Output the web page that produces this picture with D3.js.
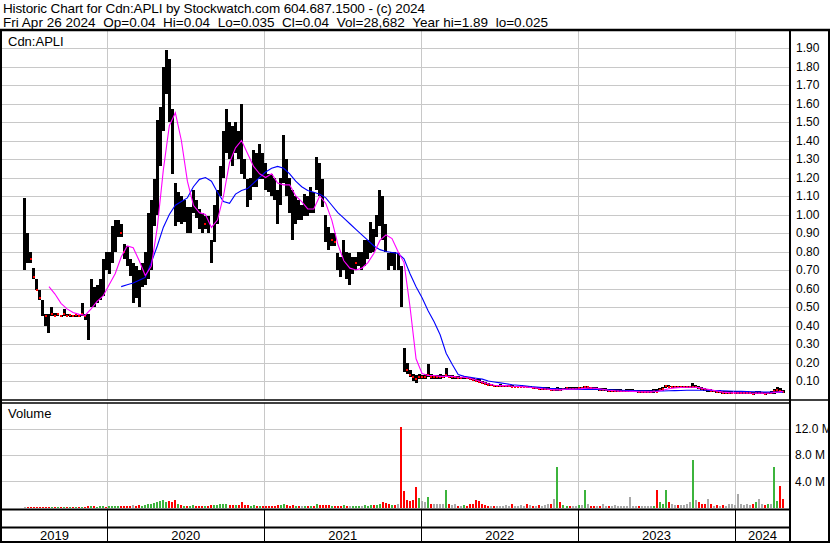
<!DOCTYPE html>
<html><head><meta charset="utf-8">
<script src="https://cdn.jsdelivr.net/npm/d3@7/dist/d3.min.js"></script>
<style>
html,body{margin:0;padding:0;background:#fff;}
svg{display:block;font-family:Arial,"Liberation Sans",sans-serif;}
</style></head><body>
<svg id="c" width="830" height="543"></svg>
<script>
// ---------- DATA (weekly bars) ----------
const startDate = "2019-06-24";
const high = [
1.09,0.90,0.80,0.71,0.65,0.59,0.54,0.46,0.46,0.50,
0.47,0.47,0.455,0.49,0.46,0.455,0.455,0.455,0.455,0.52,
0.46,0.46,0.65,0.61,0.62,0.65,0.76,0.80,0.80,0.94,
0.97,0.97,0.95,0.84,0.83,0.76,0.74,0.72,0.70,0.74,
0.80,1.01,1.08,1.19,1.51,1.58,1.80,1.89,1.84,1.57,
1.17,1.12,1.10,1.08,1.04,1.04,1.13,1.08,1.03,1.01,
0.99,0.99,0.86,1.05,1.13,1.26,1.45,1.57,1.50,1.48,
1.50,1.45,1.60,1.30,1.19,1.20,1.35,1.33,1.38,1.33,
1.28,1.22,1.22,1.20,1.13,1.20,1.43,1.30,1.20,1.13,
1.10,1.08,1.05,1.11,1.10,1.15,1.12,1.31,1.28,1.19,
1.00,0.93,0.90,0.90,0.79,0.77,0.86,0.80,0.79,0.77,
0.77,0.80,0.80,0.86,0.86,0.96,0.92,1.00,1.13,1.10,
0.95,0.79,0.80,0.80,0.79,0.72,0.28,0.20,0.16,0.14,
0.13,0.14,0.13,0.14,0.19,0.14,0.13,0.13,0.14,0.13,
0.17,0.13,0.13,0.125,0.125,0.12,0.125,0.12,0.12,0.115,
0.11,0.11,0.10,0.095,0.09,0.085,0.08,0.08,0.085,0.08,
0.08,0.08,0.08,0.075,0.075,0.08,0.075,0.075,0.075,0.07,
0.07,0.065,0.065,0.065,0.065,0.06,0.06,0.065,0.06,0.06,
0.065,0.065,0.065,0.065,0.065,0.07,0.075,0.075,0.07,0.065,
0.065,0.06,0.06,0.06,0.055,0.055,0.055,0.055,0.055,0.05,
0.055,0.055,0.055,0.05,0.05,0.05,0.05,0.05,0.05,0.055,
0.055,0.06,0.065,0.08,0.08,0.075,0.075,0.075,0.075,0.075,
0.075,0.075,0.09,0.08,0.075,0.065,0.06,0.055,0.055,0.05,
0.05,0.05,0.045,0.045,0.045,0.045,0.045,0.045,0.045,0.045,
0.045,0.04,0.04,0.045,0.045,0.04,0.04,0.04,0.045,0.055,
0.065,0.06,0.05];
const low = [
0.70,0.74,0.74,0.65,0.59,0.54,0.45,0.40,0.36,0.45,
0.45,0.45,0.45,0.45,0.45,0.45,0.45,0.45,0.45,0.45,
0.43,0.32,0.50,0.50,0.52,0.54,0.56,0.70,0.68,0.74,
0.80,0.88,0.88,0.76,0.72,0.67,0.52,0.55,0.50,0.61,
0.62,0.65,0.70,0.94,1.00,1.26,1.45,1.65,1.50,1.22,
0.94,0.96,0.95,0.96,0.90,0.90,1.01,0.98,0.92,0.90,
0.92,0.90,0.74,0.85,0.95,1.10,1.20,1.33,1.30,1.26,
1.33,1.30,1.22,1.19,1.04,1.08,1.15,1.15,1.19,1.19,
1.13,1.12,1.10,1.08,0.95,1.05,1.17,1.10,1.01,0.86,
0.95,0.97,0.97,0.99,0.99,1.01,1.01,1.13,1.10,1.04,
0.85,0.81,0.83,0.83,0.70,0.66,0.70,0.65,0.62,0.68,
0.70,0.72,0.70,0.72,0.76,0.79,0.80,0.88,0.94,0.86,
0.80,0.70,0.72,0.70,0.70,0.50,0.15,0.14,0.12,0.10,
0.09,0.11,0.11,0.11,0.12,0.11,0.11,0.11,0.11,0.115,
0.12,0.115,0.11,0.11,0.11,0.11,0.11,0.11,0.105,0.10,
0.095,0.09,0.085,0.08,0.075,0.075,0.07,0.07,0.07,0.07,
0.07,0.07,0.07,0.065,0.065,0.065,0.065,0.06,0.06,0.055,
0.055,0.05,0.05,0.05,0.05,0.045,0.045,0.045,0.045,0.05,
0.05,0.05,0.05,0.05,0.05,0.05,0.055,0.055,0.05,0.05,
0.05,0.045,0.045,0.045,0.04,0.04,0.04,0.04,0.04,0.04,
0.04,0.04,0.04,0.04,0.035,0.035,0.035,0.035,0.035,0.035,
0.04,0.045,0.045,0.06,0.065,0.065,0.06,0.06,0.06,0.06,
0.06,0.06,0.06,0.06,0.055,0.05,0.045,0.04,0.04,0.04,
0.035,0.035,0.03,0.03,0.03,0.03,0.03,0.03,0.03,0.03,
0.03,0.03,0.025,0.03,0.03,0.03,0.025,0.03,0.03,0.03,
0.04,0.04,0.035];
const close = [
0.90,0.80,0.76,0.66,0.59,0.55,0.46,0.45,0.37,0.46,
0.45,0.46,0.45,0.46,0.45,0.455,0.45,0.455,0.45,0.46,
0.45,0.40,0.60,0.55,0.58,0.60,0.72,0.70,0.75,0.85,
0.90,0.95,0.90,0.80,0.78,0.70,0.70,0.62,0.58,0.68,
0.75,0.95,1.00,1.10,1.40,1.50,1.70,1.80,1.65,1.25,
1.00,1.05,1.00,1.02,0.95,0.98,1.05,1.00,0.95,0.93,
0.95,0.92,0.78,1.00,1.10,1.20,1.40,1.45,1.40,1.35,
1.40,1.35,1.30,1.22,1.10,1.15,1.25,1.22,1.25,1.24,
1.20,1.18,1.15,1.12,1.00,1.15,1.30,1.15,1.05,0.95,
1.02,1.00,1.00,1.05,1.02,1.10,1.05,1.25,1.15,1.08,
0.88,0.85,0.86,0.85,0.72,0.70,0.75,0.70,0.70,0.72,
0.74,0.75,0.75,0.80,0.82,0.90,0.88,0.95,1.05,0.90,
0.82,0.75,0.76,0.72,0.72,0.55,0.20,0.16,0.13,0.12,
0.11,0.12,0.12,0.12,0.13,0.12,0.12,0.12,0.12,0.12,
0.13,0.12,0.12,0.12,0.115,0.115,0.12,0.115,0.11,0.105,
0.10,0.095,0.09,0.085,0.08,0.08,0.075,0.075,0.075,0.075,
0.075,0.075,0.07,0.07,0.07,0.07,0.07,0.065,0.065,0.06,
0.06,0.055,0.055,0.055,0.055,0.05,0.05,0.055,0.05,0.055,
0.06,0.055,0.055,0.055,0.06,0.06,0.065,0.065,0.06,0.055,
0.055,0.05,0.05,0.05,0.045,0.045,0.045,0.045,0.045,0.045,
0.045,0.045,0.045,0.045,0.04,0.04,0.04,0.04,0.04,0.045,
0.04,0.05,0.055,0.075,0.07,0.07,0.07,0.065,0.065,0.065,
0.065,0.065,0.07,0.07,0.06,0.055,0.05,0.05,0.045,0.045,
0.04,0.04,0.035,0.035,0.035,0.035,0.035,0.035,0.035,0.035,
0.035,0.035,0.03,0.035,0.035,0.035,0.03,0.035,0.035,0.045,
0.05,0.045,0.04];
const volumeM = [
0.15,0.10,0.08,0.10,0.12,0.10,0.12,0.08,0.10,0.05,
0.05,0.08,0.05,0.10,0.05,0.05,0.08,0.10,0.05,0.15,
0.12,0.20,0.30,0.20,0.15,0.20,0.25,0.15,0.20,0.30,
0.25,0.20,0.20,0.25,0.20,0.30,0.35,0.30,0.35,0.30,
0.40,0.50,0.60,0.70,0.90,1.00,1.20,0.90,1.00,0.80,
1.10,0.60,0.40,0.30,0.30,0.25,0.40,0.30,0.30,0.25,
0.20,0.30,0.40,0.40,0.35,0.50,0.50,0.60,0.40,0.40,
0.35,0.40,0.90,0.40,0.35,0.30,0.35,0.30,0.30,0.25,
0.30,0.25,0.25,0.30,0.35,0.40,0.60,0.40,0.30,0.40,
0.30,0.25,0.20,0.25,0.30,0.30,0.25,0.50,0.45,0.40,
0.40,0.35,0.25,0.20,0.30,0.30,0.35,0.30,0.30,0.25,
0.20,0.25,0.30,0.35,0.30,0.40,0.35,0.45,0.60,0.80,
0.70,0.50,0.40,0.40,0.50,12.3,2.5,1.2,1.0,1.1,
3.1,1.5,1.0,0.8,1.6,0.6,0.5,0.5,0.6,0.5,
2.6,0.5,0.4,0.5,0.3,0.3,0.4,0.3,0.6,0.5,
1.2,1.0,0.6,0.4,0.3,0.3,0.3,0.3,0.3,0.2,
0.4,0.3,0.5,0.3,0.3,0.4,0.3,0.5,0.4,0.3,
0.3,0.4,0.3,0.4,0.5,0.6,1.3,6.2,0.8,0.4,
0.3,0.3,0.3,0.3,0.4,0.4,2.6,0.5,0.3,0.3,
0.3,0.3,0.6,0.3,0.3,0.2,0.4,0.3,0.2,0.2,
0.3,1.6,0.3,0.2,0.2,0.3,0.2,0.3,0.3,0.3,
2.6,0.8,0.6,2.7,0.9,0.5,0.4,0.4,0.4,0.4,
0.5,0.9,7.2,1.1,0.9,0.6,0.5,1.3,0.5,0.3,
0.4,0.3,0.4,0.3,0.5,0.6,0.4,2.0,0.6,0.4,
0.5,0.4,0.5,0.9,1.3,0.5,0.4,0.5,0.6,6.2,
1.0,3.3,1.3];
// moving averages read every second week
const maShortFirstWeek = 8;
const maShort = [
0.61,0.57,0.52,0.49,0.47,0.46,0.455,0.49,0.53,0.56,
0.62,0.68,0.77,0.83,0.82,0.75,0.67,0.72,0.93,1.24,
1.48,1.55,1.40,1.18,1.05,1.01,1.00,0.93,0.97,1.10,
1.28,1.36,1.40,1.33,1.26,1.22,1.20,1.22,1.17,1.16,
1.16,1.10,1.07,1.03,1.03,1.10,1.06,0.97,0.84,0.75,
0.71,0.70,0.71,0.74,0.79,0.86,0.89,0.87,0.80,0.74,
0.50,0.22,0.14,0.13,0.13,0.125,0.125,0.125,0.12,0.12,
0.115,0.105,0.095,0.085,0.077,0.075,0.075,0.072,0.07,0.068,
0.065,0.062,0.058,0.055,0.052,0.052,0.055,0.056,0.057,0.06,
0.062,0.06,0.055,0.05,0.047,0.045,0.045,0.044,0.042,0.041,
0.041,0.043,0.05,0.058,0.063,0.065,0.066,0.066,0.064,0.058,
0.052,0.046,0.04,0.037,0.036,0.035,0.035,0.034,0.034,0.034,
0.035,0.04,0.045];
const maLongFirstWeek = 32;
const maLong = [
0.61,0.62,0.63,0.645,0.66,0.74,0.83,0.93,1.00,1.05,
1.07,1.09,1.15,1.19,1.20,1.18,1.12,1.07,1.06,1.11,
1.13,1.14,1.17,1.20,1.23,1.25,1.26,1.25,1.22,1.18,
1.15,1.13,1.12,1.11,1.09,1.05,1.01,0.98,0.95,0.92,
0.89,0.86,0.83,0.81,0.80,0.795,0.79,0.76,0.68,0.61,
0.55,0.48,0.42,0.35,0.25,0.19,0.135,0.125,0.12,0.115,
0.11,0.10,0.095,0.09,0.085,0.08,0.077,0.074,0.07,0.067,
0.064,0.061,0.059,0.057,0.056,0.055,0.055,0.055,0.054,0.054,
0.053,0.052,0.051,0.05,0.049,0.048,0.047,0.047,0.046,0.046,
0.046,0.047,0.048,0.049,0.05,0.05,0.05,0.05,0.049,0.048,
0.047,0.046,0.045,0.044,0.043,0.042,0.041,0.04,0.04,0.039,
0.039];
const priceTicks = [0.1,0.2,0.3,0.4,0.5,0.6,0.7,0.8,0.9,1.0,1.1,1.2,1.3,1.4,1.5,1.6,1.7,1.8,1.9];
const volumeTicks = [4,8,12];
const years = [2019,2020,2021,2022,2023,2024];
const headerLines = [
  "Historic Chart for Cdn:APLI by Stockwatch.com 604.687.1500 - (c) 2024",
  "Fri Apr 26 2024  Op=0.04  Hi=0.04  Lo=0.035  Cl=0.04  Vol=28,682  Year hi=1.89  lo=0.025"
];
const symbolLabel = "Cdn:APLI";
const volumeLabel = "Volume";

// ---------- LAYOUT ----------
const W = 830, H = 543;
const X0 = 2, X1 = 790;
const PT = 31, PB = 400, VT = 403, VB = 509;
const svg = d3.select("#c");
const t0 = d3.timeParse("%Y-%m-%d")(startDate);
const weekDate = i => d3.timeDay.offset(t0, 7 * i);
const bars = high.map((h, i) => ({d: weekDate(i), h, l: low[i], c: close[i], v: volumeM[i],
  dir: i === 0 ? 0 : Math.sign(close[i] - close[i - 1])}));

const x = d3.scaleTime().domain([new Date(2020,0,1), new Date(2024,0,1)]).range([107, 735]);
const y = d3.scaleLinear().domain([0, 1.9]).range([399.5, 48]);
const yv = d3.scaleLinear().domain([0, 12]).range([507.5, 428.6]);

svg.append("rect").attr("width", W).attr("height", H).attr("fill", "#fff");

// header
const headerLen = [422, 545];
svg.append("g").selectAll("text").data(headerLines).join("text")
  .attr("x", 3).attr("y", (d, i) => 13 + i * 13.8)
  .attr("font-size", 13.5).attr("fill", "#000").style("white-space", "pre")
  .attr("textLength", (d, i) => headerLen[i]).attr("lengthAdjust", "spacing")
  .text(d => d);

const defs = svg.append("defs");
defs.append("clipPath").attr("id", "cp").append("rect").attr("x", X0).attr("y", PT).attr("width", X1 - X0).attr("height", PB - PT);
defs.append("clipPath").attr("id", "cv").append("rect").attr("x", X0).attr("y", VT).attr("width", X1 - X0).attr("height", VB - VT);

const yearBounds = years.slice(1).map(yr => new Date(yr, 0, 1));

// price grid
const gGrid = svg.append("g").attr("transform", `translate(${X0},0)`)
  .call(d3.axisLeft(y).tickValues(priceTicks).tickSize(-(X1 - X0)).tickFormat(""));
gGrid.select(".domain").remove();
gGrid.selectAll("line").attr("stroke", "#c8c8c8").attr("shape-rendering", "crispEdges");
svg.append("g").selectAll("line").data(yearBounds).join("line")
  .attr("x1", d => Math.round(x(d)) + 0.5).attr("x2", d => Math.round(x(d)) + 0.5)
  .attr("y1", PT).attr("y2", PB).attr("stroke", "#c8c8c8");
// volume grid
const gvGrid = svg.append("g").attr("transform", `translate(${X0},0)`)
  .call(d3.axisLeft(yv).tickValues(volumeTicks).tickSize(-(X1 - X0)).tickFormat(""));
gvGrid.select(".domain").remove();
gvGrid.selectAll("line").attr("stroke", "#c8c8c8").attr("shape-rendering", "crispEdges");
svg.append("g").selectAll("line").data(yearBounds).join("line")
  .attr("x1", d => Math.round(x(d)) + 0.5).attr("x2", d => Math.round(x(d)) + 0.5)
  .attr("y1", VT).attr("y2", VB).attr("stroke", "#c8c8c8");

// price bars
const gp = svg.append("g").attr("clip-path", "url(#cp)").attr("shape-rendering", "crispEdges");
gp.selectAll("rect.b").data(bars).join("rect").attr("class", "b")
  .attr("x", d => x(d.d) - 1.5).attr("width", 3)
  .attr("y", d => y(d.h)).attr("height", d => Math.max(1.5, y(d.l) - y(d.h)))
  .attr("fill", "#000");
// red close marks on the quiet (narrow-range) weeks
gp.selectAll("rect.c").data(bars.filter(d => d.h - d.l < 0.08)).join("rect").attr("class", "c")
  .attr("x", d => x(d.d) - 1).attr("width", 2)
  .attr("y", d => y(d.c) - 1).attr("height", 2).attr("fill", "#ff0000");

// moving averages
const maPts = (arr, first) => arr.map((v, k) => ({d: weekDate(first + 2 * k), v}));
const line = d3.line().x(d => x(d.d)).y(d => y(d.v));
const gm = svg.append("g").attr("clip-path", "url(#cp)");
gm.append("path").datum(maPts(maLong, maLongFirstWeek)).attr("d", line)
  .attr("fill", "none").attr("stroke", "#0000ff").attr("stroke-width", 1.1);
gm.append("path").datum(maPts(maShort, maShortFirstWeek)).attr("d", line)
  .attr("fill", "none").attr("stroke", "#ff00ff").attr("stroke-width", 1.1);

// volume bars
const vColor = d => d.dir > 0 ? "#3cb43c" : d.dir < 0 ? "#ff0000" : "#a8a8a8";
svg.append("g").attr("clip-path", "url(#cv)").attr("shape-rendering", "crispEdges")
  .selectAll("rect").data(bars).join("rect")
  .attr("x", d => x(d.d) - 1).attr("width", 2)
  .attr("y", d => yv(d.v)).attr("height", d => yv(0) - yv(d.v))
  .attr("fill", vColor);

// axis labels
const gpa = svg.append("g").attr("transform", `translate(${X1},0)`)
  .call(d3.axisRight(y).tickValues(priceTicks).tickSize(0).tickPadding(6).tickFormat(d3.format(".2f")));
gpa.select(".domain").remove();
gpa.selectAll("text").attr("font-size", 12).attr("font-family", "Arial, 'Liberation Sans', sans-serif").attr("fill", "#000");
const gva = svg.append("g").attr("transform", `translate(${X1},0)`)
  .call(d3.axisRight(yv).tickValues(volumeTicks).tickSize(0).tickPadding(5).tickFormat(d => d.toFixed(1) + " M"));
gva.select(".domain").remove();
gva.selectAll("text").attr("font-size", 12).attr("font-family", "Arial, 'Liberation Sans', sans-serif").attr("fill", "#000");

// labels
svg.append("text").attr("x", 8).attr("y", 45.5).attr("font-size", 13).text(symbolLabel);
svg.append("text").attr("x", 8).attr("y", 418).attr("font-size", 13).text(volumeLabel);

// frame lines
const blk = (x1, y1, x2, y2, w) => svg.append("line").attr("x1", x1).attr("y1", y1).attr("x2", x2).attr("y2", y2)
  .attr("stroke", "#000").attr("stroke-width", w);
blk(0, 30, W, 30, 2.5);
blk(1, 30, 1, H, 2);
blk(829, 30, 829, H, 2);
blk(790, 30, 790, H, 2);
blk(0, 400, W, 400, 1.5);
blk(0, 403, 790, 403, 1.5);
blk(0, 509.5, 790, 509.5, 2);
blk(0, 527.5, 790, 527.5, 2);
blk(0, 542, W, 542, 2);
// year dividers in bottom rows
svg.append("g").selectAll("line").data(yearBounds).join("line")
  .attr("x1", d => Math.round(x(d)) + 0.5).attr("x2", d => Math.round(x(d)) + 0.5)
  .attr("y1", 509.5).attr("y2", 542).attr("stroke", "#000");
// year labels
svg.append("g").selectAll("text").data(years).join("text")
  .attr("x", yr => (Math.max(X0, x(new Date(yr, 0, 1))) + Math.min(X1, x(new Date(yr + 1, 0, 1)))) / 2)
  .attr("y", 539.5).attr("text-anchor", "middle").attr("font-size", 13).text(yr => yr);
</script>
</body></html>
